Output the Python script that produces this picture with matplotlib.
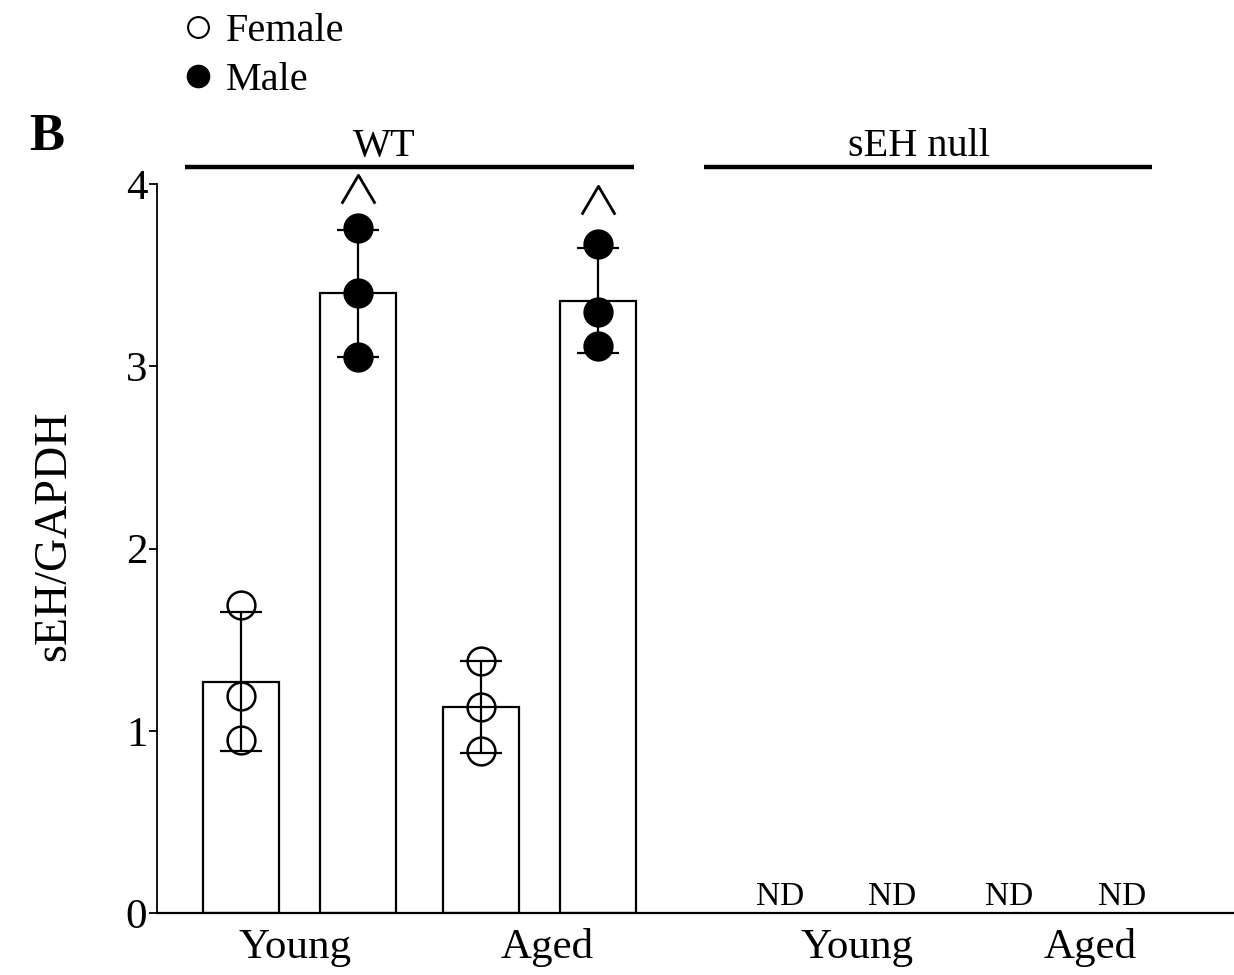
import matplotlib
matplotlib.use('Agg')
import matplotlib.pyplot as plt
from matplotlib.lines import Line2D

plt.rcParams['font.family'] = ['Liberation Serif', 'DejaVu Serif']

# data
groups = ['WT', 'sEH null']
ages = ['Young', 'Aged']
sexes = ['Female', 'Male']

# WT bars: female young, male young, female aged, male aged
wt_means = [1.27, 3.40, 1.13, 3.36]
wt_sd = [0.38, 0.35, 0.25, 0.29]
wt_points = [
    [1.69, 1.19, 0.95],
    [3.76, 3.40, 3.05],
    [1.38, 1.13, 0.89],
    [3.67, 3.30, 3.11],
]
wt_sex = ['Female', 'Male', 'Female', 'Male']
# sEH null: not detected in every group
null_labels = ['ND', 'ND', 'ND', 'ND']
# "^" marks over the male bars
sig_y = [3.97, 3.91]

# layout (data units along x)
wt_x = [0.0, 1.0, 2.05, 3.05]
null_x = [4.61, 5.57, 6.57, 7.53]
age_tick_x = [0.46, 2.62, 5.27, 7.26]
bar_w = 0.65
caret = [(-1, -0.85), (0, 0.85), (1, -0.85)]

fig = plt.figure(figsize=(12.34, 9.75), dpi=100)
ax = fig.add_axes([157 / 1234, 62 / 975, 1 - 157 / 1234, (913 - 184) / 975])

ax.bar(wt_x, wt_means, width=bar_w, color='white', edgecolor='black', linewidth=1.6, zorder=1)
ax.errorbar(wt_x, wt_means, yerr=wt_sd, fmt='none', ecolor='black', elinewidth=1.6,
            capsize=15, capthick=1.6, zorder=2)
for x, pts, sex in zip(wt_x, wt_points, wt_sex):
    face = 'none' if sex == 'Female' else 'black'
    ax.plot([x] * len(pts), pts, 'o', ms=20, mfc=face, mec='black', mew=1.8,
            linestyle='none', zorder=3)

for x, lab in zip(null_x, null_labels):
    ax.text(x, 0.045, lab, ha='center', va='baseline', fontsize=24)

ax.plot([wt_x[1], wt_x[3]], sig_y, marker=caret, ms=24, mfc='none', mec='black', mew=2.0,
        linestyle='none', clip_on=False)

# group bars above
line_y = 4.094
for (x0, x1, tx), name in zip([(-0.48, 3.36, 1.22), (3.96, 7.79, 5.80)], groups):
    ax.plot([x0, x1], [line_y, line_y], color='black', lw=3.2, clip_on=False,
            solid_capstyle='butt')
    ax.text(tx, line_y + 0.01, name, ha='center', va='bottom', fontsize=29)

ax.set_xlim(-0.72, 8.49)
ax.set_ylim(0, 4)
ax.set_yticks([0, 1, 2, 3, 4])
ax.set_yticklabels(['0', '1', '2', '3', '4'], fontsize=31)
ax.set_xticks(age_tick_x)
ax.set_xticklabels(ages * 2, fontsize=31)
ax.tick_params(axis='x', length=0, pad=11)
ax.tick_params(axis='y', length=6, width=1.3, pad=1)
for s in ['top', 'right']:
    ax.spines[s].set_visible(False)
ax.spines['left'].set_linewidth(1.3)
ax.spines['bottom'].set_linewidth(1.6)

fig.text(54 / 1234, 1 - 536 / 975, 'sEH/GAPDH', rotation=90, ha='center', va='center', fontsize=33)
fig.text(47 / 1234, 1 - 137 / 975, 'B', ha='center', va='center', fontsize=38, fontweight='bold')

handles = [
    Line2D([], [], marker='o', ls='none', ms=15, mfc='none', mec='black', mew=1.5),
    Line2D([], [], marker='o', ls='none', ms=16, mfc='black', mec='black'),
]
fig.legend(handles, sexes, loc='upper left', bbox_to_anchor=(182 / 1234, 1 - 9 / 975), frameon=False,
           fontsize=29, handlelength=0.6, handletextpad=0.4, labelspacing=0.3, borderpad=0.1,
           borderaxespad=0)

fig.savefig('out.png', dpi=100)
